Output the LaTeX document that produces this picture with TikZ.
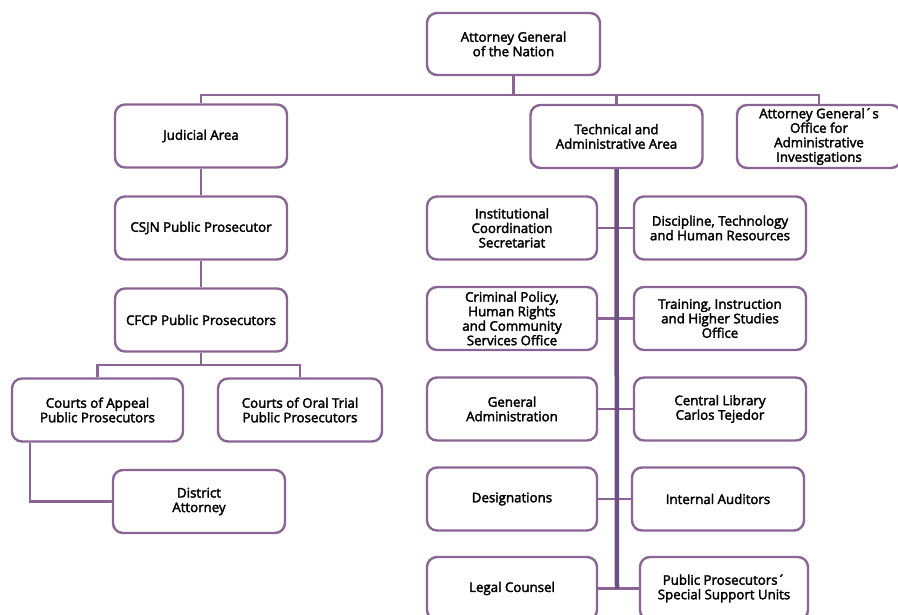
\documentclass[tikz,border=0pt]{standalone}
\usepackage{fontspec}
\setmainfont{Open Sans}[FakeBold=2.5]
\usetikzlibrary{positioning}
\definecolor{orgline}{RGB}{138,100,148}
\definecolor{spine}{RGB}{110,80,130}
\tikzset{
  office/.style={draw=orgline, line width=2.4pt, rounded corners=10pt, fill=white,
    align=center, inner sep=2pt, minimum width=172pt, minimum height=63pt,
    font=\fontsize{13.3}{14.5}\selectfont, text=black},
  link/.style={draw=orgline, line width=2.8pt},
  spineline/.style={draw=spine, line width=4.5pt}
}

\begin{document}
\begin{tikzpicture}[x=1pt,y=-1pt]
\useasboundingbox (0,0) rectangle (898,614);
% top level
\node[office, minimum width=173pt, minimum height=62pt] (AG) at (513.5,44) {Attorney General\\of the Nation};
\coordinate (bus) at (513.5,95);
\node[office] (judicial) at (201,136) {Judicial Area};
\node[office] (tech) at (616.5,136.5) {Technical and\\Administrative Area};
\node[office, minimum width=164pt] (inv) at (819,136.5) {Attorney General´s\\Office for\\Administrative\\Investigations};
% judicial branch
\node[office] (csjn) at (201,228) {CSJN Public Prosecutor};
\node[office] (cfcp) at (201,320) {CFCP Public Prosecutors};
\coordinate (split) at (201,365);
\node[office, minimum width=171pt] (appeal) at (97.5,410) {Courts of Appeal\\Public Prosecutors};
\node[office, minimum width=164pt] (oral) at (300,410) {Courts of Oral Trial\\Public Prosecutors};
\node[office] (district) at (199,501.5) {District\\Attorney};
\coordinate (dabend) at (30,501.5);
% technical branch
\node[office, minimum width=170pt] (coord) at (512,228) {Institutional\\Coordination\\Secretariat};
\node[office] (discipline) at (720,228) {Discipline, Technology\\and Human Resources};
\node[office, minimum width=170pt] (policy) at (512,318.5) {Criminal Policy,\\Human Rights\\and Community\\Services Office};
\node[office] (training) at (720,318.5) {Training, Instruction\\and Higher Studies\\Office};
\node[office, minimum width=170pt] (admin) at (512,409) {General\\Administration};
\node[office] (library) at (720,409) {Central Library\\Carlos Tejedor};
\node[office, minimum width=170pt] (design) at (512,499) {Designations};
\node[office] (audit) at (718,499) {Internal Auditors};
\node[office, minimum width=170pt] (legal) at (512,588.5) {Legal Counsel};
\node[office, minimum width=168pt] (support) at (724,588.5) {Public Prosecutors´\\Special Support Units};
\coordinate (spineend) at (617,588.5);

% connectors
\draw[link] (AG) -- (bus);
\draw[link] (judicial.north) |- (bus) -| (inv.north);
\draw[link] (bus) -| (tech.north);
\draw[link] (judicial) -- (csjn);
\draw[link] (csjn) -- (cfcp);
\draw[link] (cfcp) -- (split);
\draw[link] (appeal.north) |- (split) -| (oral.north);
\draw[link] (appeal.south -| dabend) -- (dabend) -- (district.west);
\foreach \l/\r in {coord/discipline, policy/training, admin/library, design/audit, legal/support}
  \draw[link] (\l.east) -- (\r.west);
\draw[spineline] (tech.south) -- (spineend);
\end{tikzpicture}
\end{document}
